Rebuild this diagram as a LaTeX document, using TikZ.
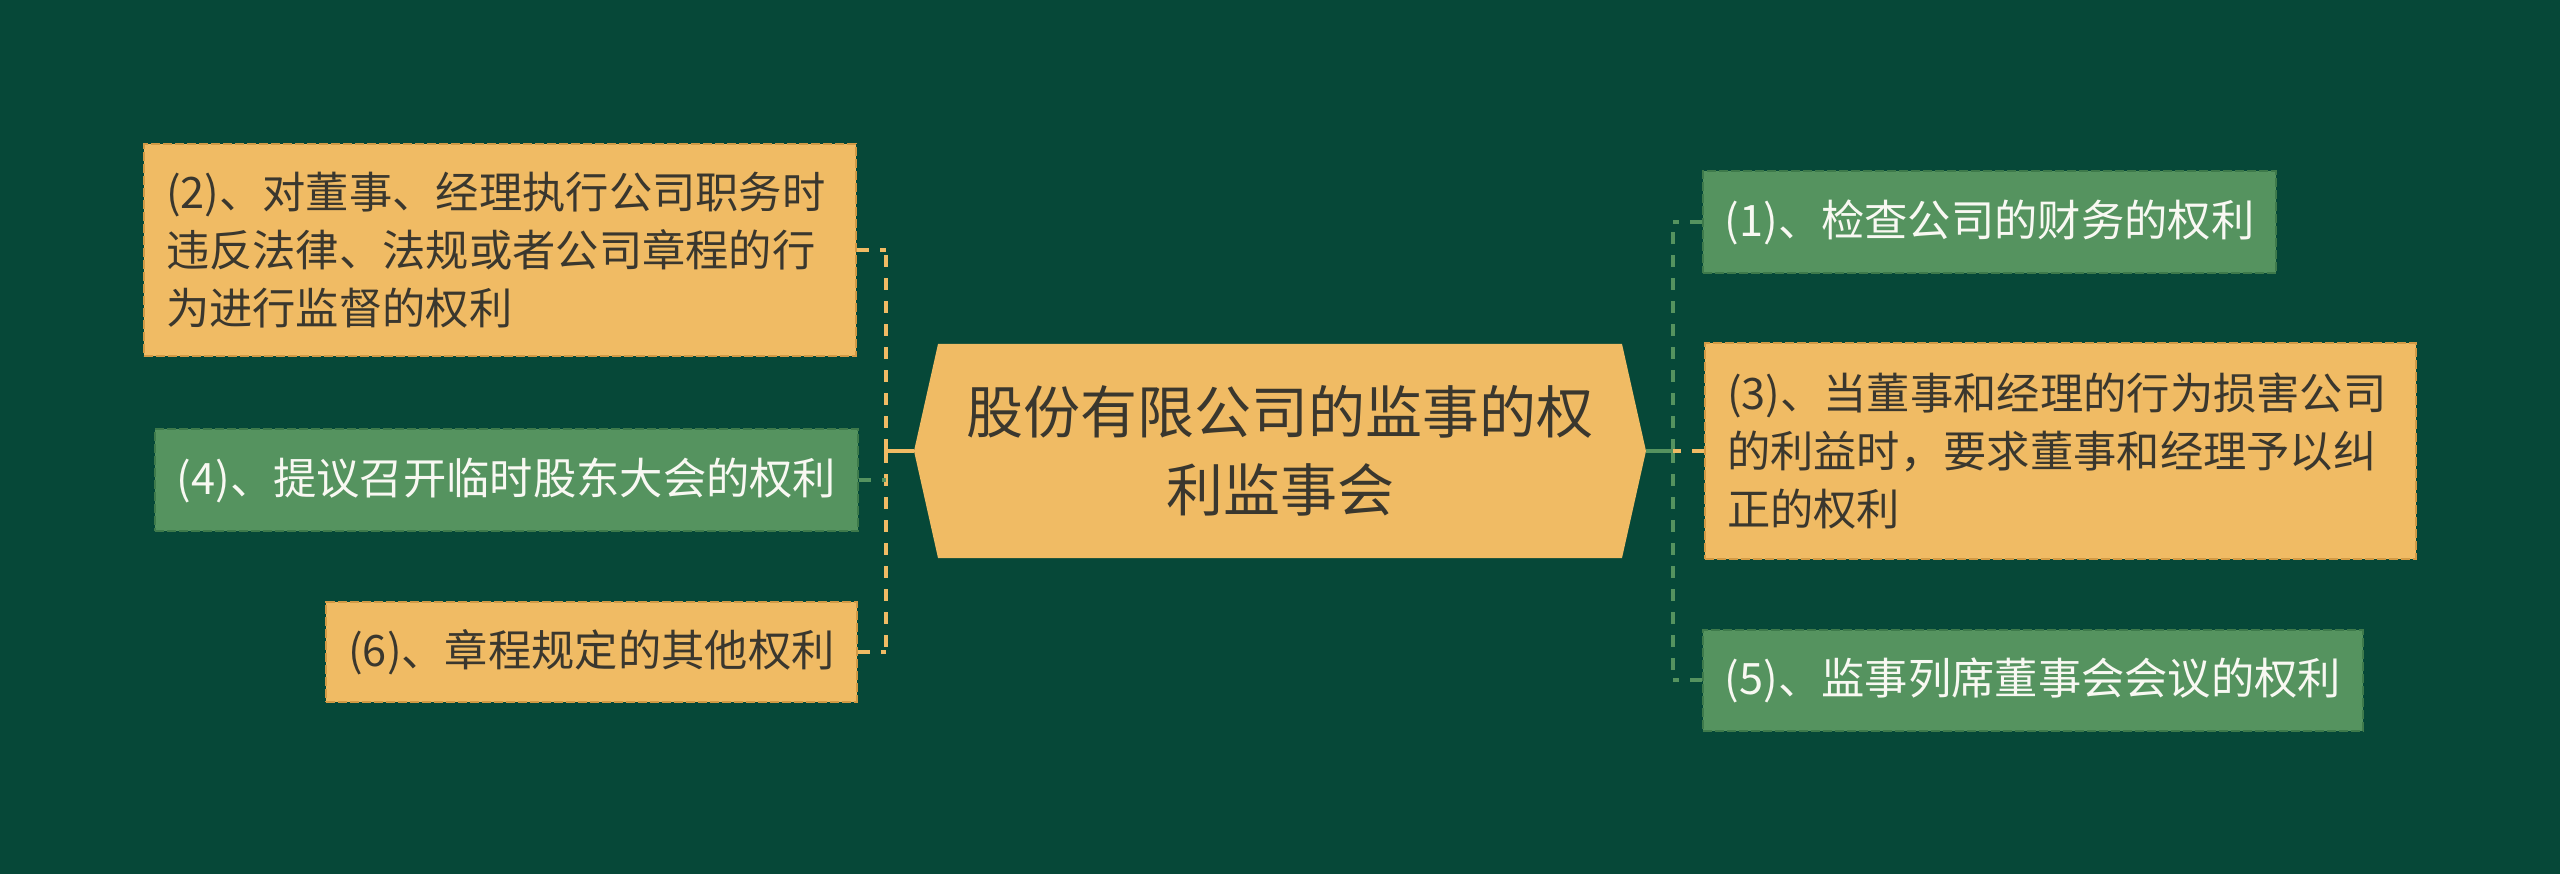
\documentclass[tikz,border=0pt]{standalone}
\usepackage{fontspec}
\setmainfont{Noto Sans CJK SC}
\definecolor{bg}{HTML}{064838}
\definecolor{ofill}{HTML}{F0BB64}
\definecolor{oline}{HTML}{D29A45}
\definecolor{gfill}{HTML}{55935F}
\definecolor{gline}{HTML}{3E7A4B}
\definecolor{tdark}{HTML}{3A372E}
\definecolor{twhite}{HTML}{F8F8F2}
\begin{document}
\begin{tikzpicture}[x=1pt,y=-1pt,
  boxbase/.style={line width=2pt, dash pattern=on 9pt off 3pt, inner xsep=22pt, inner ysep=0pt,
    font=\fontsize{43.3}{58}\selectfont},
  obox/.style={boxbase, draw=oline, fill=ofill, text=tdark},
  gbox/.style={boxbase, draw=gline, fill=gfill, text=twhite},
  oconn/.style={draw=ofill, line width=4pt},
  gconn/.style={draw=gfill, line width=4pt},
  odash/.style={oconn, dash pattern=on 12pt off 11pt},
  gdash/.style={gconn, dash pattern=on 12pt off 11pt}]
\fill[bg] (0,0) rectangle (2560,874);
\useasboundingbox (0,0) rectangle (2560,874);

% central hexagon
\coordinate (cL) at (914,451);
\coordinate (cR) at (1646,451);
\fill[ofill] (938,344) -- (1622,344) -- (cR) -- (1622,558) -- (938,558) -- (cL) -- cycle;
\node[text=tdark, align=center, font=\fontsize{57}{78}\selectfont] (c) at (1280,451)
  {股份有限公司的监事的权\\利监事会};

% left boxes
\node[obox, text width=668pt, align=left, minimum height=212pt] (b2) at (500,250)
  {(2)、对董事、经理执行公司职务时\\违反法律、法规或者公司章程的行\\为进行监督的权利};
\node[gbox, minimum width=699pt, minimum height=102pt] (b4) at (506.5,480)
  {(4)、提议召开临时股东大会的权利};
\node[obox, minimum width=529pt, minimum height=100pt] (b6) at (591.5,652)
  {(6)、章程规定的其他权利};

% right boxes
\node[gbox, minimum width=569pt, minimum height=102pt] (b1) at (1989.5,222)
  {(1)、检查公司的财务的权利};
\node[obox, text width=667pt, align=left, minimum height=215pt] (b3) at (2060.5,451)
  {(3)、当董事和经理的行为损害公司\\的利益时，要求董事和经理予以纠\\正的权利};
\node[gbox, minimum width=656pt, minimum height=101pt] (b5) at (2033,680)
  {(5)、监事列席董事会会议的权利};

% left connectors
\coordinate (jl) at (886,451);
\draw[oconn] (cL) -- (jl);
\draw[odash] (jl) -- (jl |- b2.east);
\draw[odash] (jl) -- (jl |- b6.east);
\draw[odash] (b2.east) -- (jl |- b2.east);
\draw[gdash] (b4.east) -- (jl |- b4.east);
\draw[odash] (b6.east) -- (jl |- b6.east);

% right connectors
\coordinate (jr) at (1673,451);
\draw[gconn] (cR) -- (jr);
\draw[gdash] (jr) -- (jr |- b1.west);
\draw[gdash] (jr) -- (jr |- b5.west);
\draw[gdash] (b1.west) -- (jr |- b1.west);
\draw[odash] (b3.west) -- (jr |- b3.west);
\draw[gdash] (b5.west) -- (jr |- b5.west);
\end{tikzpicture}
\end{document}
